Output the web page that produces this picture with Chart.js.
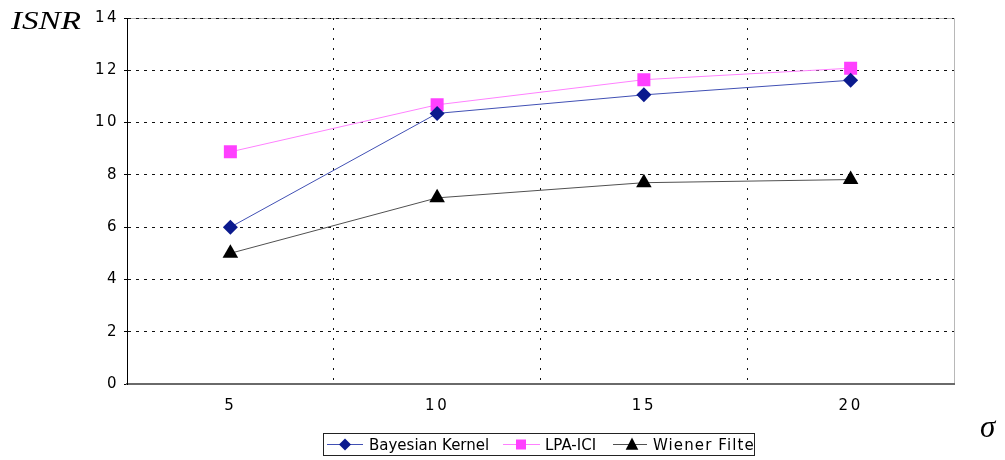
<!DOCTYPE html>
<html>
<head>
<meta charset="utf-8">
<script src="https://cdn.jsdelivr.net/npm/chart.js@4.4.1/dist/chart.umd.min.js"></script>
<style>
  html, body { margin: 0; padding: 0; background: #fff; }
  #wrap { width: 1005px; height: 460px; position: relative; }
</style>
</head>
<body>
<div id="wrap"><canvas id="c" width="1005" height="460"></canvas></div>
<script>
// Noise level sigma on the category axis
const sigmaLabels = ['5', '10', '15', '20'];

// ISNR values per method
const bayesianKernel = [6.0, 10.35, 11.06, 11.62];
const lpaIci = [8.88, 10.68, 11.64, 12.08];
const wienerFilter = [5.0, 7.12, 7.70, 7.82];

// Value axis ticks
const yTicks = [0, 2, 4, 6, 8, 10, 12, 14];

const seriesNames = ['Bayesian Kernel', 'LPA-ICI', 'Wiener Filter'];

const styles = [
  { line: '#4150b4', mark: '#0b1a8e', shape: 'rectRot', r: 7.5, lr: 6 },
  { line: '#ff80ff', mark: '#ff40ff', shape: 'rect', r: 9.2, lr: 5 },
  { line: '#505050', mark: '#000000', shape: 'triangle', r: 9, lr: 7 }
];
const seriesData = [bayesianKernel, lpaIci, wienerFilter];

const datasets = seriesNames.map((name, i) => ({
  label: name,
  data: seriesData[i],
  borderColor: styles[i].line,
  borderWidth: 1,
  backgroundColor: styles[i].mark,
  pointStyle: styles[i].shape,
  pointRadius: styles[i].r,
  pointHoverRadius: styles[i].r,
  pointBackgroundColor: styles[i].mark,
  pointBorderColor: styles[i].mark,
  pointBorderWidth: 0,
  tension: 0,
  fill: false
}));

// Legend item placement (line start, line end, mark x, text x)
const legendSlots = [
  { x1: 327, x2: 363, mx: 345, tx: 369 },
  { x1: 503, x2: 540, mx: 521, tx: 545 },
  { x1: 613, x2: 647, mx: 632, tx: 653 }
];

function drawMark(ctx, shape, x, y, r, color) {
  ctx.fillStyle = color;
  ctx.beginPath();
  if (shape === 'rectRot') {
    ctx.moveTo(x - r, y); ctx.lineTo(x, y - r); ctx.lineTo(x + r, y); ctx.lineTo(x, y + r);
  } else if (shape === 'rect') {
    ctx.rect(x - r, y - r, 2 * r, 2 * r);
  } else {
    ctx.moveTo(x, y - r); ctx.lineTo(x + r * 0.9, y + r * 0.75); ctx.lineTo(x - r * 0.9, y + r * 0.75);
  }
  ctx.closePath();
  ctx.fill();
}

const decorations = {
  id: 'decorations',
  beforeDraw(chart) {
    const { ctx, chartArea: a } = chart;
    ctx.save();
    ctx.strokeStyle = '#b8b8b8';
    ctx.lineWidth = 1;
    ctx.beginPath();
    ctx.moveTo(a.left, Math.round(a.top) + 0.5);
    ctx.lineTo(Math.round(a.right) + 0.5, Math.round(a.top) + 0.5);
    ctx.lineTo(Math.round(a.right) + 0.5, a.bottom);
    ctx.stroke();
    ctx.restore();
    ctx.letterSpacing = '2.5px';
  },
  afterDraw(chart) {
    const ctx = chart.ctx;
    ctx.save();
    ctx.letterSpacing = '0px';
    ctx.fillStyle = '#000';
    ctx.textBaseline = 'alphabetic';
    ctx.textAlign = 'left';

    // Value axis title
    ctx.font = 'italic 25px "Liberation Serif"';
    const w = ctx.measureText('ISNR').width;
    ctx.save();
    ctx.translate(11, 29);
    ctx.scale(70 / w, 1);
    ctx.fillText('ISNR', 0, 0);
    ctx.restore();

    // Category axis title
    ctx.font = 'italic 31px "Liberation Serif"';
    ctx.fillText('σ', 980, 437);

    // Legend
    ctx.strokeStyle = '#222';
    ctx.lineWidth = 1;
    ctx.strokeRect(323.5, 433.5, 431, 22);
    ctx.beginPath();
    ctx.rect(324, 434, 430, 21);
    ctx.clip();
    const ly = 444.5;
    chart.data.datasets.forEach((ds, i) => {
      const s = legendSlots[i];
      ctx.strokeStyle = styles[i].line;
      ctx.beginPath();
      ctx.moveTo(s.x1, ly);
      ctx.lineTo(s.x2, ly);
      ctx.stroke();
      drawMark(ctx, styles[i].shape, s.mx, ly, styles[i].lr, styles[i].mark);
      ctx.fillStyle = '#000';
      ctx.font = '15px "DejaVu Sans"';
      ctx.letterSpacing = i === 2 ? '1.1px' : '0px';
      ctx.fillText(ds.label, s.tx, 450);
    });
    ctx.restore();
  }
};

new Chart(document.getElementById('c'), {
  type: 'line',
  data: { labels: sigmaLabels, datasets },
  plugins: [decorations],
  options: {
    responsive: false,
    devicePixelRatio: 1,
    animation: false,
    events: [],
    layout: { padding: { left: 0, right: 51, top: 18, bottom: 0 } },
    plugins: { legend: { display: false }, tooltip: { enabled: false } },
    scales: {
      x: {
        type: 'category',
        offset: true,
        afterFit(s) { s.height = 76; },
        grid: {
          offset: true,
          drawTicks: false,
          tickLength: 0,
          lineWidth: 1,
          // only the separators between categories are dotted; the outer edges stay clear
          color: (c) => (c.type !== 'tick' || c.index === 0) ? 'rgba(0,0,0,0)' : '#111'
        },
        border: { display: true, color: '#6a6a6a', width: 2, dash: [2, 8] },
        ticks: {
          padding: 13,
          color: '#000',
          font: { family: 'DejaVu Sans', size: 15 }
        }
      },
      y: {
        min: 0,
        max: 14,
        afterFit(s) { s.width = 127; },
        afterBuildTicks(s) { s.ticks = yTicks.map(v => ({ value: v })); },
        grid: {
          color: '#111',
          lineWidth: 1,
          drawTicks: true,
          tickLength: 3,
          tickColor: '#000',
          tickBorderDash: []
        },
        border: { display: true, color: '#000', width: 1, dash: [3, 5] },
        ticks: {
          padding: 5,
          color: '#000',
          font: { family: 'DejaVu Sans', size: 15 }
        }
      }
    }
  }
});
</script>
</body>
</html>
